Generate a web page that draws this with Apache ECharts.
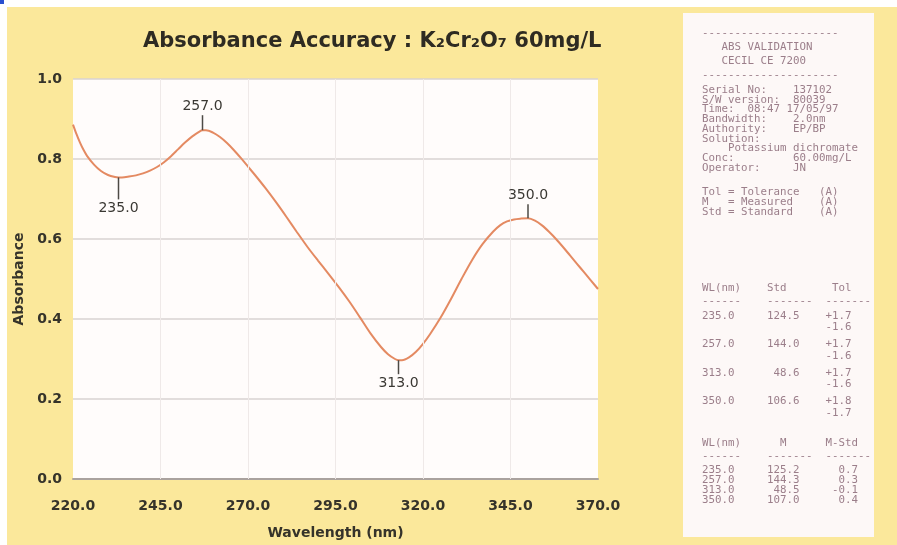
<!DOCTYPE html>
<html>
<head>
<meta charset="utf-8">
<script src="https://cdn.jsdelivr.net/npm/echarts@6/dist/echarts.min.js"></script>
<style>
    html, body { margin: 0; padding: 0; background: #fbe89b; }
    #container { width: 897px; height: 545px; }
</style>
</head>
<body>
<div id="container"></div>
<script type="text/javascript">
    // absorbance curve
    var wavelength = [220, 221, 222, 223, 224, 226, 228, 230, 232, 233, 234, 236, 238, 240, 242, 244, 246, 248, 250, 252, 254, 256, 257, 258, 260, 262, 264, 266, 268, 270, 272, 275, 278, 281, 284, 287, 290, 293, 296, 299, 302, 305, 308, 310, 312, 313, 314, 316, 318, 320, 322, 325, 328, 331, 334, 337, 340, 342, 344, 346, 348, 350, 352, 354, 356, 358, 360, 362, 364, 366, 368, 370];
    var absorbance = [0.886, 0.862, 0.841, 0.823, 0.808, 0.786, 0.770, 0.760, 0.755, 0.754, 0.754, 0.756, 0.759, 0.764, 0.771, 0.780, 0.792, 0.807, 0.824, 0.841, 0.856, 0.868, 0.872, 0.872, 0.866, 0.855, 0.840, 0.822, 0.802, 0.781, 0.760, 0.727, 0.692, 0.655, 0.617, 0.580, 0.546, 0.513, 0.479, 0.443, 0.404, 0.364, 0.330, 0.312, 0.300, 0.297, 0.297, 0.304, 0.318, 0.338, 0.362, 0.403, 0.450, 0.500, 0.547, 0.587, 0.618, 0.634, 0.644, 0.649, 0.651, 0.652, 0.646, 0.634, 0.618, 0.600, 0.580, 0.559, 0.538, 0.517, 0.496, 0.475];

    // peak / valley markers
    var peakWl = [233, 257, 313, 350];
    var peakText = ['235.0', '257.0', '313.0', '350.0'];
    var peakUp = [false, true, false, true];
    var tickLen = [22, 15, 14, 14];

    var xTicks = [220, 245, 270, 295, 320, 345, 370];

    // printout on the right
    var headLines = [
        '---------------------',
        '   ABS VALIDATION',
        '   CECIL CE 7200',
        '---------------------'
    ];
    var infoLines = [
        'Serial No:    137102',
        'S/W version:  80039',
        'Time:  08:47 17/05/97',
        'Bandwidth:    2.0nm',
        'Authority:    EP/BP',
        'Solution:',
        '    Potassium dichromate',
        'Conc:         60.00mg/L',
        'Operator:     JN'
    ];
    var keyLines = [
        'Tol = Tolerance   (A)',
        'M   = Measured    (A)',
        'Std = Standard    (A)'
    ];
    var stdHead = ['WL(nm)    Std       Tol', '------    -------  -------'];
    var stdWl = ['235.0', '257.0', '313.0', '350.0'];
    var stdVal = ['124.5', '144.0', '48.6', '106.6'];
    var tolPlus = ['+1.7', '+1.7', '+1.7', '+1.8'];
    var tolMinus = ['-1.6', '-1.6', '-1.6', '-1.7'];
    var measHead = ['WL(nm)      M      M-Std', '------    -------  -------'];
    var measVal = ['125.2', '144.3', '48.5', '107.0'];
    var measDiff = ['0.7', '0.3', '-0.1', '0.4'];

    function pad(s, n) {
        while (s.length < n) s = ' ' + s;
        return s;
    }

    function valueAt(wl) {
        return absorbance[wavelength.indexOf(wl)];
    }

    var printFont = '10.8px "DejaVu Sans Mono"';
    var printColor = '#9b7e8a';
    var graphics = [
        { type: 'rect', shape: { x: 0, y: 0, width: 897, height: 7 }, style: { fill: '#ffffff' } },
        { type: 'rect', shape: { x: 0, y: 0, width: 7, height: 545 }, style: { fill: '#ffffff' } },
        { type: 'rect', shape: { x: 0, y: 0, width: 4, height: 4 }, style: { fill: '#2a4fd0' } },
        { type: 'rect', shape: { x: 683, y: 13, width: 191, height: 524 }, style: { fill: '#fdf8f7' } }
    ];

    function addLine(text, y) {
        graphics.push({
            type: 'text', x: 702, y: y,
            style: { text: text, font: printFont, fill: printColor, verticalAlign: 'middle' }
        });
    }

    headLines.forEach(function (t, i) { addLine(t, 33 + i * 14); });
    infoLines.forEach(function (t, i) { addLine(t, 90 + i * 9.75); });
    keyLines.forEach(function (t, i) { addLine(t, 192 + i * 10); });
    stdHead.forEach(function (t, i) { addLine(t, 288 + i * 13); });
    stdWl.forEach(function (wl, i) {
        addLine(wl + pad(stdVal[i], 10) + pad(tolPlus[i], 8), 316 + i * 28.5);
        addLine(pad(tolMinus[i], 23), 327.5 + i * 28.5);
    });
    measHead.forEach(function (t, i) { addLine(t, 443 + i * 13); });
    stdWl.forEach(function (wl, i) {
        addLine(wl + pad(measVal[i], 10) + pad(measDiff[i], 9), 470 + i * 10);
    });

    var labelFont = 'DejaVu Sans';
    var textColor = '#35332a';
    var dom = document.getElementById('container');
    var myChart = echarts.init(dom, null, { renderer: 'canvas' });
    var option = {
        backgroundColor: '#fbe89b',
        animation: false,
        title: {
            text: 'Absorbance Accuracy : K\u2082Cr\u2082O\u2087 60mg/L',
            left: 138,
            top: 26,
            textStyle: {
                fontFamily: labelFont,
                fontSize: 21,
                fontWeight: 'bold',
                color: '#2e2b22'
            }
        },
        grid: {
            left: 73,
            right: 299,
            top: 79,
            bottom: 64,
            show: true,
            backgroundColor: '#fffcfb',
            borderWidth: 0
        },
        xAxis: {
            type: 'value',
            min: 220,
            max: 370,
            interval: 5,
            name: 'Wavelength (nm)',
            nameLocation: 'middle',
            nameGap: 47,
            nameTextStyle: { fontFamily: labelFont, fontSize: 14, fontWeight: 'bold', color: textColor },
            axisLine: { show: true, lineStyle: { color: '#aaa29e', width: 2 } },
            axisTick: { show: false },
            splitLine: { show: false },
            axisLabel: {
                margin: 20,
                fontFamily: labelFont,
                fontSize: 14,
                fontWeight: 'bold',
                color: textColor,
                formatter: function (v) {
                    return xTicks.indexOf(v) >= 0 ? v.toFixed(1) : '';
                }
            }
        },
        yAxis: {
            type: 'value',
            min: 0,
            max: 1,
            interval: 0.2,
            name: 'Absorbance',
            nameLocation: 'middle',
            nameGap: 47,
            nameTextStyle: { fontFamily: labelFont, fontSize: 14, fontWeight: 'bold', color: textColor },
            axisLine: { show: false },
            axisTick: { show: false },
            splitLine: { lineStyle: { color: '#d9d3d2', width: 1.5 } },
            axisLabel: {
                margin: 11,
                fontFamily: labelFont,
                fontSize: 14,
                fontWeight: 'bold',
                color: textColor,
                formatter: function (v) { return v.toFixed(1); }
            }
        },
        series: [{
            name: 'Absorbance',
            type: 'line',
            data: wavelength.map(function (w, i) { return [w, absorbance[i]]; }),
            showSymbol: false,
            smooth: 0.3,
            lineStyle: { color: '#e48a62', width: 2 },
            markLine: {
                silent: true,
                symbol: 'none',
                label: { show: false },
                lineStyle: { color: '#efe9e8', width: 1, type: 'solid' },
                data: xTicks.slice(1, -1).map(function (v) { return { xAxis: v }; })
            },
            markPoint: {
                silent: true,
                symbol: 'rect',
                itemStyle: { color: '#4d4a45' },
                label: {
                    show: true,
                    fontFamily: labelFont,
                    fontSize: 14,
                    color: '#3a3833'
                },
                data: peakWl.map(function (wl, i) {
                    var len = tickLen[i];
                    return {
                        coord: [wl, valueAt(wl)],
                        symbolSize: [1.5, len],
                        symbolOffset: [0, peakUp[i] ? -len / 2 : len / 2],
                        label: {
                            position: peakUp[i] ? 'top' : 'bottom',
                            distance: 2,
                            formatter: peakText[i]
                        }
                    };
                })
            }
        }],
        graphic: graphics
    };
    if (option && typeof option === "object") {
        myChart.setOption(option, true);
    }
</script>
</body>
</html>
